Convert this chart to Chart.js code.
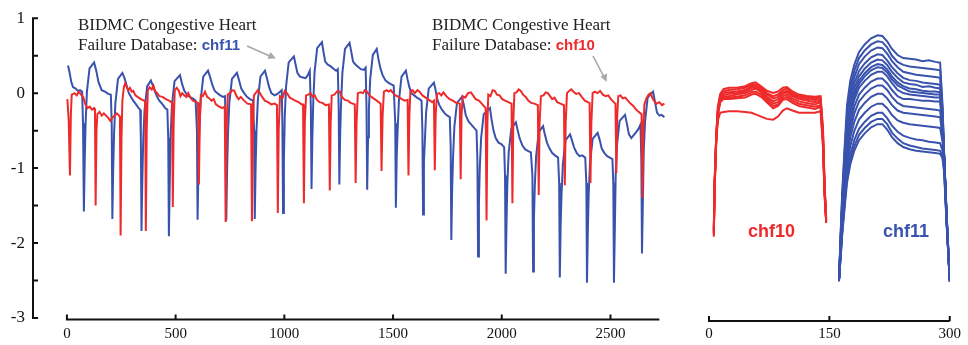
<!DOCTYPE html>
<html>
<head>
<meta charset="utf-8">
<script src="https://cdn.jsdelivr.net/npm/chart.js@4.4.1/dist/chart.umd.min.js"></script>
<style>
  html, body { margin: 0; padding: 0; background: #fff; overflow: hidden; }
  #wrap { position: relative; width: 968px; height: 345px; }
  .panel { position: absolute; top: 0; }
  .note { position: absolute; font: 17px/20px "Liberation Serif", "Times New Roman", serif; color: #222; white-space: nowrap; }
  .tag { font: bold 15px "Liberation Sans", Arial, sans-serif; }
  .big { position: absolute; font: bold 18px/18px "Liberation Sans", Arial, sans-serif; }
  svg { position: absolute; left: 0; top: 0; }
</style>
</head>
<body>
<div id="wrap">
  <div class="panel" style="left:0;width:680px;height:345px"><canvas id="ecg" width="680" height="345"></canvas></div>
  <div class="panel" style="left:680px;width:288px;height:345px"><canvas id="beats" width="288" height="345"></canvas></div>

  <div class="note" style="left:78px;top:15px">BIDMC Congestive Heart<br>Failure Database: <span class="tag" style="color:#3953ad">chf11</span></div>
  <div class="note" style="left:432px;top:15px">BIDMC Congestive Heart<br>Failure Database: <span class="tag" style="color:#ee2a2a">chf10</span></div>
  <div class="big" style="left:748px;top:222px;color:#ee2a2a">chf10</div>
  <div class="big" style="left:883px;top:222px;color:#3953ad">chf11</div>

  <svg width="968" height="345">
    <g stroke="#a8a8a8" stroke-width="1.6" fill="#a8a8a8">
      <line x1="247" y1="46" x2="271" y2="56.5"/>
      <polygon points="276,58.5 267.5,58.8 270.5,52" stroke="none"/>
      <line x1="593" y1="56" x2="604" y2="77"/>
      <polygon points="606.5,82 600.5,76.5 607,73.5" stroke="none"/>
    </g>
  </svg>
</div>

<script>
const RED = '#ee2a2a';
const BLUE = '#3953ad';
const SERIF = '"Liberation Serif", "Times New Roman", serif';

// --- left panel: raw signals, [sample, mV] ---
const chf10 = [
  [2,-0.08],[8,-0.35],[14,-1.1],[18,-0.3],[22,-0.02],[35,0.0],[45,-0.03],[55,0.02],[65,-0.02],[75,-0.05],[85,-0.15],[95,-0.2],[105,-0.18],[115,-0.22],[125,-0.2],[129,-0.25],[132,-1.5],
  [136,-0.5],[140,-0.28],[150,-0.25],[160,-0.3],[170,-0.27],[180,-0.3],[190,-0.33],[200,-0.37],[210,-0.32],[220,-0.3],[230,-0.27],[240,-0.3],[244,-0.32],[247,-1.9],
  [251,-0.6],[255,-0.1],[262,0.08],[268,0.13],[275,0.08],[282,0.04],[290,0.07],[298,0.02],[305,0.03],[315,-0.03],[325,-0.05],[340,-0.08],[355,-0.1],[360,-0.12],[363,-1.84],
  [367,-0.5],[372,0.03],[380,0.08],[390,0.05],[398,0.1],[405,0.03],[415,0.0],[425,-0.04],[440,-0.05],[455,-0.08],[470,-0.1],[480,-0.12],[484,-0.13],[487,-1.52],
  [491,-0.4],[496,0.04],[505,0.07],[515,0.03],[522,-0.04],[530,0.0],[540,-0.03],[550,-0.05],[558,0.0],[568,-0.06],[580,-0.1],[595,-0.12],[603,-0.13],[607,-1.22],
  [611,-0.4],[616,-0.03],[625,-0.04],[635,0.02],[645,-0.05],[655,-0.07],[665,-0.1],[675,-0.08],[685,-0.15],[700,-0.18],[715,-0.2],[726,-0.18],[730,-1.72],
  [734,-0.5],[740,-0.02],[750,0.0],[760,0.04],[770,0.03],[780,-0.04],[790,-0.08],[800,-0.05],[815,-0.1],[830,-0.14],[847,-0.15],[851,-1.71],
  [855,-0.5],[860,-0.03],[868,0.0],[878,0.04],[888,0.0],[898,-0.05],[910,-0.1],[925,-0.12],[940,-0.15],[955,-0.14],[966,-0.16],[970,-1.6],
  [974,-0.5],[980,-0.04],[992,-0.06],[1002,0.03],[1012,0.0],[1025,-0.06],[1038,-0.08],[1050,-0.1],[1065,-0.12],[1080,-0.15],[1086,-0.15],[1090,-1.47],
  [1094,-0.4],[1100,-0.03],[1110,-0.02],[1120,0.0],[1130,-0.05],[1140,-0.03],[1150,-0.09],[1162,-0.12],[1175,-0.13],[1190,-0.16],[1205,-0.15],[1209,-1.3],
  [1213,-0.4],[1218,-0.03],[1230,-0.02],[1245,0.03],[1255,0.02],[1265,-0.05],[1278,-0.09],[1292,-0.1],[1305,-0.13],[1324,-0.15],[1328,-1.2],
  [1332,-0.4],[1338,0.0],[1350,0.01],[1362,0.0],[1370,0.04],[1380,0.02],[1395,-0.04],[1410,-0.07],[1425,-0.1],[1443,-0.14],[1447,-1.04],
  [1452,-0.3],[1458,0.02],[1470,0.04],[1480,0.02],[1490,0.04],[1500,0.0],[1512,-0.03],[1525,-0.05],[1540,-0.08],[1555,-0.1],[1567,-0.09],[1571,-1.1],
  [1575,-0.3],[1580,0.03],[1590,0.04],[1600,0.0],[1612,0.04],[1622,0.02],[1635,-0.03],[1650,-0.06],[1665,-0.09],[1680,-0.12],[1688,-0.1],[1692,-1.03],
  [1696,-0.3],[1702,-0.01],[1712,0.0],[1722,-0.03],[1732,0.01],[1745,-0.04],[1760,-0.08],[1775,-0.1],[1790,-0.13],[1807,-0.14],[1811,-1.15],
  [1815,-0.3],[1820,-0.04],[1832,-0.06],[1845,0.0],[1858,0.01],[1868,-0.03],[1880,-0.08],[1895,-0.1],[1908,-0.14],[1920,-0.18],[1926,-0.2],[1930,-1.7],
  [1934,-0.4],[1938,-0.02],[1948,-0.04],[1958,0.04],[1968,0.03],[1978,-0.02],[1990,-0.03],[2002,-0.08],[2015,-0.1],[2030,-0.12],[2045,-0.14],[2049,-1.47],
  [2053,-0.4],[2058,0.0],[2068,0.01],[2078,0.05],[2088,0.03],[2098,-0.02],[2110,-0.05],[2122,-0.1],[2135,-0.13],[2150,-0.14],[2166,-0.16],[2170,-1.36],
  [2174,-0.4],[2180,-0.04],[2192,-0.03],[2202,0.01],[2212,0.0],[2222,-0.04],[2232,-0.08],[2242,-0.06],[2255,-0.12],[2270,-0.14],[2286,-0.16],[2290,-1.23],
  [2294,-0.4],[2300,0.0],[2310,0.03],[2320,0.05],[2330,0.02],[2342,-0.01],[2355,0.0],[2368,-0.05],[2382,-0.1],[2395,-0.12],[2404,-0.13],[2408,-1.2],
  [2412,-0.4],[2418,0.0],[2428,0.02],[2440,0.0],[2452,0.03],[2465,-0.02],[2478,-0.04],[2490,-0.03],[2502,-0.08],[2515,-0.12],[2523,-0.14],[2527,-1.07],
  [2531,-0.3],[2536,-0.04],[2546,-0.03],[2556,-0.07],[2568,-0.06],[2580,-0.1],[2592,-0.14],[2605,-0.17],[2618,-0.22],[2630,-0.25],[2643,-0.28],[2647,-1.4],
  [2651,-0.5],[2656,-0.15],[2665,-0.07],[2675,-0.02],[2685,0.0],[2692,-0.06],[2700,-0.1],[2712,-0.14],[2725,-0.12],[2737,-0.16],[2748,-0.14]
];

const chf11 = [
  [5,0.37],[12,0.28],[20,0.15],[28,0.08],[40,0.06],[50,0.03],[60,0.04],[70,0.02],
  [74,-0.4],[78,-1.58],[82,-0.9],[86,-0.4],[92,0.02],[104,0.33],[125,0.41],
  [135,0.3],[145,0.15],[160,0.04],[175,0.02],[190,-0.01],[202,-0.02],
  [206,-0.4],[209,-1.68],[213,-1.0],[217,-0.53],[223,-0.13],[235,0.19],[255,0.27],
  [265,0.2],[275,0.1],[285,0.0],[295,-0.05],[305,-0.1],[318,-0.15],[330,-0.2],[337,-0.22],
  [340,-0.6],[343,-1.84],[347,-1.14],[351,-0.63],[357,-0.23],[369,0.09],[386,0.17],
  [395,0.1],[405,0.02],[415,-0.05],[425,-0.1],[440,-0.15],[452,-0.2],[462,-0.22],
  [466,-0.6],[469,-1.91],[473,-1.21],[477,-0.56],[483,-0.16],[495,0.16],[520,0.24],
  [530,0.12],[540,0.03],[552,-0.02],[565,-0.05],[578,-0.07],[592,-0.1],
  [598,-0.5],[601,-1.69],[605,-0.99],[609,-0.5],[615,-0.1],[627,0.22],[649,0.3],
  [660,0.2],[670,0.1],[680,0.03],[692,0.0],[705,-0.03],[718,-0.05],[727,-0.04],
  [730,-0.4],[733,-1.7],[737,-1.0],[741,-0.53],[747,-0.13],[759,0.19],[782,0.27],
  [792,0.17],[802,0.06],[815,0.0],[828,-0.05],[842,-0.08],[856,-0.1],
  [861,-0.5],[864,-1.68],[868,-0.98],[872,-0.5],[878,-0.1],[890,0.22],[911,0.3],
  [920,0.2],[930,0.08],[940,0.0],[955,-0.03],[968,-0.01],[980,0.02],[988,0.04],
  [991,-0.4],[994,-1.6],[998,-0.9],[1002,-0.31],[1008,0.09],[1020,0.41],[1044,0.49],
  [1052,0.38],[1060,0.27],[1072,0.22],[1085,0.21],[1098,0.2],[1108,0.24],[1117,0.3],
  [1122,-0.2],[1125,-1.28],[1129,-0.58],[1133,-0.12],[1139,0.28],[1151,0.6],[1173,0.68],
  [1180,0.55],[1188,0.42],[1200,0.38],[1212,0.36],[1225,0.33],[1238,0.3],[1246,0.32],
  [1250,-0.2],[1253,-1.22],[1257,-0.52],[1261,-0.13],[1267,0.27],[1279,0.59],[1300,0.67],
  [1308,0.55],[1316,0.42],[1328,0.38],[1340,0.35],[1352,0.32],[1365,0.31],[1374,0.34],
  [1378,-0.2],[1381,-1.29],[1385,-0.59],[1389,-0.21],[1395,0.19],[1407,0.51],[1425,0.59],
  [1433,0.45],[1442,0.33],[1452,0.24],[1465,0.17],[1478,0.14],[1490,0.12],[1503,0.1],
  [1510,-0.4],[1513,-1.53],[1517,-0.83],[1521,-0.5],[1527,-0.1],[1539,0.22],[1559,0.3],
  [1567,0.18],[1575,0.08],[1585,0.0],[1597,-0.03],[1610,-0.06],[1622,-0.08],[1631,-0.1],
  [1635,-0.5],[1638,-1.62],[1642,-0.92],[1646,-0.66],[1652,-0.26],[1664,0.06],[1688,0.14],
  [1695,0.05],[1703,-0.08],[1713,-0.16],[1725,-0.22],[1738,-0.27],[1750,-0.3],[1761,-0.32],
  [1765,-0.7],[1768,-1.96],[1772,-1.26],[1776,-0.85],[1782,-0.45],[1794,-0.13],[1817,-0.05],
  [1825,-0.15],[1835,-0.3],[1848,-0.38],[1860,-0.42],[1872,-0.46],[1884,-0.5],
  [1888,-0.9],[1891,-2.18],[1895,-1.48],[1899,-1.0],[1905,-0.6],[1917,-0.28],[1946,-0.2],
  [1953,-0.35],[1962,-0.5],[1972,-0.6],[1985,-0.66],[1998,-0.68],[2011,-0.72],
  [2015,-1.1],[2018,-2.41],[2022,-1.71],[2026,-1.19],[2032,-0.79],[2044,-0.47],[2065,-0.39],
  [2072,-0.48],[2082,-0.6],[2095,-0.7],[2108,-0.75],[2120,-0.77],[2134,-0.79],
  [2141,-1.1],[2144,-2.38],[2148,-1.68],[2152,-1.24],[2158,-0.84],[2170,-0.52],[2190,-0.44],
  [2198,-0.55],[2208,-0.66],[2220,-0.74],[2232,-0.8],[2245,-0.83],[2259,-0.86],
  [2264,-1.2],[2267,-2.46],[2271,-1.76],[2275,-1.35],[2281,-0.95],[2293,-0.63],[2314,-0.55],
  [2322,-0.62],[2332,-0.72],[2345,-0.8],[2358,-0.84],[2370,-0.83],[2384,-0.86],
  [2389,-1.2],[2392,-2.53],[2396,-1.83],[2400,-1.33],[2406,-0.93],[2418,-0.61],[2441,-0.53],
  [2450,-0.62],[2460,-0.74],[2472,-0.8],[2485,-0.84],[2497,-0.86],[2509,-0.88],
  [2513,-1.2],[2516,-2.53],[2520,-1.83],[2524,-1.09],[2530,-0.69],[2542,-0.37],[2567,-0.29],
  [2575,-0.4],[2585,-0.55],[2596,-0.6],[2607,-0.56],[2618,-0.52],[2628,-0.48],[2638,-0.42],
  [2642,-0.9],[2645,-2.14],[2649,-1.44],[2653,-0.78],[2659,-0.38],[2671,-0.06],[2696,0.02],
  [2705,-0.12],[2714,-0.26],[2725,-0.3],[2735,-0.29],[2748,-0.32]
];

// --- right panel: overlaid single beats ---
const redBeatX = [6,7,9,11,14,18,25,35,45,53,58,65,72,80,86,92,97,104,112,122,132,139,142,144,146];
const redBeats = [
  [-1.93,-1.3,-0.6,-0.22,-0.05,0.01,0.03,0.03,0.05,0.09,0.1,0.05,-0.01,-0.04,-0.02,0.03,0.04,-0.02,-0.06,-0.08,-0.09,-0.08,-0.5,-1.2,-1.75],
  [-1.9,-1.25,-0.6,-0.25,-0.07,-0.02,0.0,0.01,0.03,0.07,0.07,0.03,-0.04,-0.08,-0.06,0.0,0.02,-0.04,-0.08,-0.1,-0.11,-0.1,-0.55,-1.25,-1.72],
  [-1.85,-1.2,-0.62,-0.27,-0.1,-0.04,-0.03,-0.02,0.0,0.05,0.06,0.01,-0.06,-0.11,-0.09,-0.03,-0.01,-0.06,-0.1,-0.12,-0.13,-0.12,-0.6,-1.3,-1.7],
  [-1.88,-1.28,-0.65,-0.3,-0.12,-0.07,-0.05,-0.04,-0.02,0.03,0.04,-0.01,-0.09,-0.15,-0.12,-0.05,-0.03,-0.08,-0.12,-0.14,-0.16,-0.14,-0.6,-1.3,-1.74],
  [-1.8,-1.2,-0.64,-0.3,-0.13,-0.09,-0.08,-0.06,-0.04,0.0,0.02,-0.03,-0.11,-0.18,-0.16,-0.08,-0.06,-0.11,-0.15,-0.17,-0.19,-0.16,-0.65,-1.35,-1.68],
  [-1.86,-1.22,-0.66,-0.32,-0.15,-0.1,-0.1,-0.09,-0.07,-0.03,-0.02,-0.06,-0.14,-0.21,-0.19,-0.11,-0.09,-0.14,-0.18,-0.2,-0.22,-0.2,-0.65,-1.3,-1.7],
  [-1.83,-1.25,-0.68,-0.33,-0.16,-0.12,-0.12,-0.11,-0.1,-0.06,-0.05,-0.09,-0.16,-0.24,-0.21,-0.13,-0.12,-0.17,-0.21,-0.23,-0.25,-0.22,-0.7,-1.35,-1.72],
  [-1.9,-1.3,-0.7,-0.4,-0.3,-0.29,-0.28,-0.28,-0.29,-0.3,-0.32,-0.35,-0.38,-0.39,-0.35,-0.27,-0.24,-0.27,-0.3,-0.3,-0.3,-0.28,-0.75,-1.4,-1.72]
];

const blueBeatX = [162,164,166,169,172,176,181,187,194,202,210,216,222,228,235,242,250,258,266,274,282,288,291,293,296,300];
const blueBeats = [
  [-2.52,-1.9,-1.35,-0.75,-0.2,0.12,0.33,0.5,0.6,0.68,0.72,0.71,0.64,0.54,0.46,0.42,0.41,0.4,0.38,0.39,0.37,0.36,-0.2,-0.85,-1.6,-2.5],
  [-2.5,-1.92,-1.4,-0.82,-0.3,0.03,0.25,0.42,0.52,0.6,0.64,0.63,0.56,0.45,0.37,0.33,0.31,0.3,0.29,0.28,0.27,0.26,-0.25,-0.85,-1.62,-2.48],
  [-2.5,-1.95,-1.45,-0.88,-0.38,-0.05,0.17,0.34,0.44,0.52,0.56,0.55,0.48,0.38,0.3,0.24,0.22,0.2,0.19,0.18,0.17,0.16,-0.3,-0.85,-1.65,-2.5],
  [-2.49,-1.97,-1.5,-0.95,-0.45,-0.13,0.09,0.25,0.35,0.43,0.47,0.46,0.39,0.3,0.22,0.16,0.13,0.12,0.1,0.09,0.08,0.07,-0.35,-0.86,-1.63,-2.5],
  [-2.5,-2.0,-1.52,-1.0,-0.52,-0.2,0.02,0.18,0.28,0.36,0.4,0.39,0.33,0.24,0.16,0.1,0.08,0.07,0.04,0.05,0.03,0.02,-0.4,-0.87,-1.66,-2.52],
  [-2.51,-2.0,-1.55,-1.04,-0.58,-0.26,-0.04,0.12,0.22,0.3,0.34,0.33,0.27,0.18,0.1,0.05,0.02,0.01,-0.01,-0.02,-0.02,-0.03,-0.42,-0.88,-1.64,-2.5],
  [-2.48,-2.02,-1.57,-1.07,-0.62,-0.3,-0.08,0.08,0.18,0.26,0.3,0.29,0.23,0.14,0.06,0.02,-0.02,-0.03,-0.04,-0.05,-0.06,-0.06,-0.45,-0.88,-1.65,-2.5],
  [-2.5,-2.05,-1.6,-1.1,-0.66,-0.36,-0.13,0.03,0.12,0.2,0.24,0.24,0.18,0.09,0.0,-0.04,-0.06,-0.07,-0.08,-0.09,-0.1,-0.1,-0.47,-0.89,-1.67,-2.52],
  [-2.5,-2.08,-1.65,-1.17,-0.74,-0.45,-0.22,-0.06,0.03,0.11,0.15,0.15,0.09,0.0,-0.08,-0.12,-0.12,-0.13,-0.14,-0.14,-0.15,-0.15,-0.5,-0.9,-1.66,-2.5],
  [-2.49,-2.1,-1.7,-1.23,-0.82,-0.54,-0.31,-0.15,-0.06,0.02,0.06,0.06,0.0,-0.09,-0.17,-0.21,-0.22,-0.23,-0.24,-0.25,-0.26,-0.27,-0.55,-0.9,-1.68,-2.52],
  [-2.5,-2.13,-1.75,-1.3,-0.9,-0.63,-0.42,-0.26,-0.17,-0.09,-0.05,-0.05,-0.11,-0.2,-0.27,-0.3,-0.31,-0.32,-0.33,-0.34,-0.35,-0.36,-0.6,-0.92,-1.68,-2.5],
  [-2.5,-2.16,-1.8,-1.38,-1.0,-0.74,-0.54,-0.39,-0.3,-0.22,-0.18,-0.18,-0.24,-0.33,-0.4,-0.43,-0.45,-0.46,-0.47,-0.48,-0.49,-0.5,-0.68,-0.95,-1.7,-2.52],
  [-2.49,-2.18,-1.85,-1.45,-1.1,-0.85,-0.66,-0.51,-0.42,-0.34,-0.3,-0.3,-0.37,-0.47,-0.55,-0.6,-0.63,-0.65,-0.66,-0.68,-0.69,-0.7,-0.8,-1.0,-1.72,-2.5],
  [-2.5,-2.2,-1.88,-1.5,-1.16,-0.92,-0.74,-0.59,-0.5,-0.42,-0.38,-0.38,-0.45,-0.56,-0.64,-0.7,-0.73,-0.75,-0.77,-0.78,-0.79,-0.8,-0.88,-1.05,-1.73,-2.52],
  [-2.48,-2.22,-1.9,-1.55,-1.22,-0.98,-0.8,-0.66,-0.57,-0.49,-0.45,-0.45,-0.52,-0.62,-0.7,-0.75,-0.78,-0.8,-0.81,-0.82,-0.83,-0.84,-0.9,-1.08,-1.75,-2.5]
];

// --- axes ---
const yRange = [-3, 1];
const yMarks = [-3, -2.5, -2, -1.5, -1, -0.5, 0, 0.5, 1];
const ecgTicks = [0, 500, 1000, 1500, 2000, 2500];
const ecgLine = [0, 2725];
const beatTicks = [0, 150, 300];

// detached axis lines with inward tick marks
const axesPlugin = {
  id: 'axes',
  afterDraw(chart, args, opts) {
    const { ctx, chartArea, scales: { x, y } } = chart;
    ctx.save();
    ctx.strokeStyle = '#111';
    ctx.lineWidth = 2;
    ctx.beginPath();
    if (opts.yMarks) {
      const left = chartArea.left;
      ctx.moveTo(left, y.getPixelForValue(yRange[1]) - 1);
      ctx.lineTo(left, y.getPixelForValue(yRange[0]) + 1);
      opts.yMarks.forEach(v => {
        const py = y.getPixelForValue(v);
        ctx.moveTo(left, py);
        ctx.lineTo(left + 5, py);
      });
    }
    const by = chartArea.bottom + opts.offset;
    ctx.moveTo(x.getPixelForValue(opts.xLine[0]) - 1, by);
    ctx.lineTo(x.getPixelForValue(opts.xLine[1]), by);
    opts.xMarks.forEach(v => {
      const px = x.getPixelForValue(v);
      ctx.moveTo(px, by);
      ctx.lineTo(px, by - 5);
    });
    ctx.stroke();
    ctx.restore();
  }
};

function line(data, color, width) {
  return { data, borderColor: color, borderWidth: width, pointRadius: 0, tension: 0, fill: false };
}

function xScale(min, max, ticks) {
  return {
    type: 'linear', min, max,
    grid: { display: false, drawTicks: false }, border: { display: false },
    afterBuildTicks: s => { s.ticks = ticks.map(v => ({ value: v })); },
    afterFit: s => { s.height = 27; },
    ticks: { autoSkip: false, maxRotation: 0, padding: 7, color: '#111', font: { family: SERIF, size: 15 }, callback: v => String(v) }
  };
}

Chart.register(axesPlugin);

new Chart(document.getElementById('ecg'), {
  type: 'line',
  data: {
    datasets: [
      line(chf10.map(([x, y]) => ({ x, y })), RED, 2),
      line(chf11.map(([x, y]) => ({ x, y })), BLUE, 2)
    ]
  },
  options: {
    responsive: false, animation: false, devicePixelRatio: 1,
    layout: { padding: { top: 14, right: 13, bottom: 0, left: 0 } },
    plugins: { legend: { display: false }, tooltip: { enabled: false },
      axes: { yMarks, xLine: ecgLine, xMarks: ecgTicks, offset: 1.5 } },
    scales: {
      x: xScale(-156, 2760, ecgTicks),
      y: {
        min: yRange[0], max: yRange[1],
        grid: { display: false, drawTicks: false }, border: { display: false },
        afterFit: s => { s.width = 33; },
        ticks: { stepSize: 1, padding: 8, color: '#111', font: { family: SERIF, size: 17 } }
      }
    }
  }
});

const beatSets = [
  ...blueBeats.map(b => line(b.map((y, i) => ({ x: blueBeatX[i], y })), BLUE, 2)),
  ...redBeats.map(b => line(b.map((y, i) => ({ x: redBeatX[i], y })), RED, 2))
];

new Chart(document.getElementById('beats'), {
  type: 'line',
  data: { datasets: beatSets },
  options: {
    responsive: false, animation: false, devicePixelRatio: 1,
    layout: { padding: { top: 14, right: 13, bottom: 0, left: 29 } },
    plugins: { legend: { display: false }, tooltip: { enabled: false },
      axes: { xLine: [0, 300], xMarks: beatTicks, offset: 3 } },
    scales: {
      x: xScale(0, 300, beatTicks),
      y: { display: false, min: yRange[0], max: yRange[1] }
    }
  }
});
</script>
</body>
</html>
